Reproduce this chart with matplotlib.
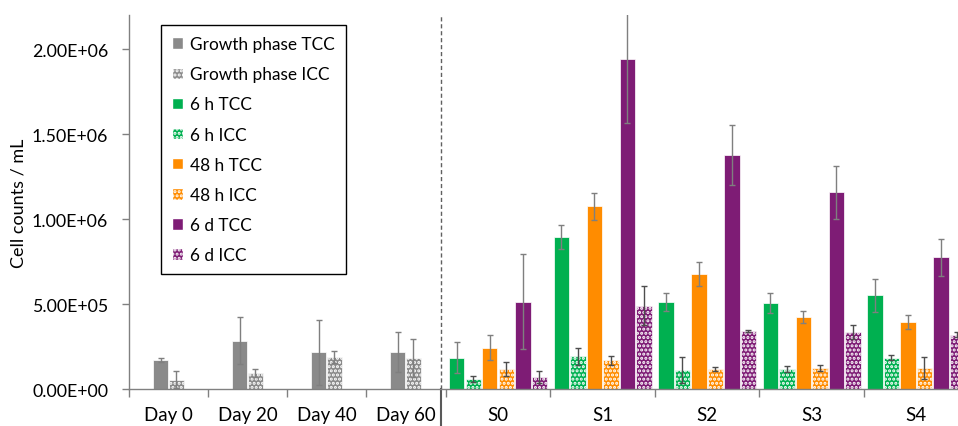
import numpy as np
import matplotlib
matplotlib.use("Agg")
import matplotlib.pyplot as plt
from matplotlib.patches import Patch
from matplotlib.transforms import blended_transform_factory

plt.rcParams['font.family'] = ['Lato', 'DejaVu Sans']
plt.rcParams['hatch.linewidth'] = 1.5

# growth phase (left block)
days = ['Day 0', 'Day 20', 'Day 40', 'Day 60']
growth_tcc = [1.72e5, 2.86e5, 2.17e5, 2.17e5]
growth_tcc_err = [1.0e4, 1.37e5, 1.90e5, 1.18e5]
growth_icc = [5.5e4, 9.6e4, 1.88e5, 1.84e5]
growth_icc_err = [5.0e4, 2.2e4, 3.5e4, 1.12e5]

# sites (right block)
sites = ['S0', 'S1', 'S2', 'S3', 'S4']
tcc_6h = [1.86e5, 8.95e5, 5.13e5, 5.05e5, 5.52e5]
tcc_6h_err = [9.3e4, 7.2e4, 5.1e4, 5.9e4, 9.6e4]
icc_6h = [6.0e4, 1.94e5, 1.13e5, 1.19e5, 1.86e5]
icc_6h_err = [2.0e4, 5.0e4, 7.7e4, 2.0e4, 1.4e4]
tcc_48h = [2.45e5, 1.075e6, 6.80e5, 4.23e5, 3.96e5]
tcc_48h_err = [7.4e4, 8.0e4, 7.0e4, 3.5e4, 4.2e4]
icc_48h = [1.19e5, 1.70e5, 1.19e5, 1.25e5, 1.25e5]
icc_48h_err = [4.3e4, 2.7e4, 1.2e4, 2.0e4, 6.5e4]
tcc_6d = [5.15e5, 1.94e6, 1.375e6, 1.158e6, 7.76e5]
tcc_6d_err = [2.80e5, 3.76e5, 1.77e5, 1.56e5, 1.09e5]
icc_6d = [7.4e4, 4.91e5, 3.43e5, 3.37e5, 3.22e5]
icc_6d_err = [3.5e4, 1.14e5, 5.0e3, 4.1e4, 1.3e4]

gray = '#8a8a8a'
green = '#00b050'
orange = '#ff8c00'
purple = '#7e1c75'
dots = '....'

fig = plt.figure(figsize=(9.58, 4.27), dpi=100)
ax = fig.add_axes([129 / 958, 36.7 / 427, 829 / 958, 374.3 / 427])

err_tcc = dict(ecolor='#7f7f7f', elinewidth=1, capsize=2.5, capthick=1)
err_icc = dict(ecolor='#4d4d4d', elinewidth=1, capsize=2.5, capthick=1)

# left block: unit-width groups
day_w = 1.0
day_edges = np.arange(len(days) + 1) * day_w
day_x = day_edges[:-1] + day_w / 2
bw = 0.195
ax.bar(day_x - 0.1, growth_tcc, bw, color=gray, edgecolor='white', linewidth=0.5,
       yerr=growth_tcc_err, error_kw=err_tcc)
ax.bar(day_x + 0.1, growth_icc, bw, color=gray, edgecolor='white', linewidth=0.5,
       hatch=dots, yerr=growth_icc_err, error_kw=err_tcc)

# right block: wider groups, 6 bars each
split = day_edges[-1] - 0.05
s_w = 1.323
s_start = day_edges[-1] + 0.01
s_edges = s_start + np.arange(len(sites) + 1) * s_w
s_x = s_edges[:-1] + s_w / 2
step = 0.209
series = [
    (tcc_6h, tcc_6h_err, green, None, err_tcc),
    (icc_6h, icc_6h_err, green, dots, err_icc),
    (tcc_48h, tcc_48h_err, orange, None, err_tcc),
    (icc_48h, icc_48h_err, orange, dots, err_icc),
    (tcc_6d, tcc_6d_err, purple, None, err_tcc),
    (icc_6d, icc_6d_err, purple, dots, err_icc),
]
for k, (vals, errs, col, hat, ek) in enumerate(series):
    ax.bar(s_x + (k - 2.5) * step, vals, bw, color=col, edgecolor='white',
           linewidth=0.5, hatch=hat, yerr=errs, error_kw=ek)

ax.set_xlim(0, 829 / 79)
ax.set_ylim(0, 2.2e6)

# divider: dashed inside, solid below the axis
ax.axvline(split, color='#606060', ls=(0, (3, 2)), lw=1)
trans = blended_transform_factory(ax.transData, ax.transAxes)
ax.plot([split, split], [0, -0.1], transform=trans, clip_on=False, color='#595959', lw=1.5)

yt = np.arange(0, 2.01e6, 5e5)
ax.set_yticks(yt)
ax.set_yticklabels(['{:.2E}'.format(v) for v in yt])

ax.set_xticks(list(day_edges[:-1]) + list(s_edges[:-1]))
ax.set_xticklabels([])
ax.set_xticks(list(day_x) + list(s_x), minor=True)
ax.set_xticklabels(days + sites, minor=True, fontsize=13.5)
ax.tick_params(axis='x', which='major', length=6, width=1, color='#808080')
ax.tick_params(axis='x', which='minor', length=0, pad=12)
ax.tick_params(axis='y', length=5, width=1, color='#808080', labelsize=12.8, pad=10)

for s in ['top', 'right']:
    ax.spines[s].set_visible(False)
for s in ['left', 'bottom']:
    ax.spines[s].set_color('#808080')
    ax.spines[s].set_linewidth(1)

ax.set_ylabel('Cell counts / mL', fontsize=13, labelpad=4)

handles = [
    Patch(facecolor=gray, edgecolor='white', label='Growth phase TCC'),
    Patch(facecolor=gray, edgecolor='white', hatch=dots, label='Growth phase ICC'),
    Patch(facecolor=green, edgecolor='white', label='6 h TCC'),
    Patch(facecolor=green, edgecolor='white', hatch=dots, label='6 h ICC'),
    Patch(facecolor=orange, edgecolor='white', label='48 h TCC'),
    Patch(facecolor=orange, edgecolor='white', hatch=dots, label='48 h ICC'),
    Patch(facecolor=purple, edgecolor='white', label='6 d TCC'),
    Patch(facecolor=purple, edgecolor='white', hatch=dots, label='6 d ICC'),
]
leg = fig.legend(handles=handles, loc='upper left', bbox_to_anchor=(161 / 958, 1 - 26 / 427),
                 fontsize=12.4, frameon=True, fancybox=False, framealpha=1, edgecolor='black',
                 handlelength=0.65, handleheight=0.65, handletextpad=0.4,
                 labelspacing=0.82, borderpad=0.65, borderaxespad=0)
leg.get_frame().set_linewidth(1)

fig.savefig('out.png', dpi=100)
